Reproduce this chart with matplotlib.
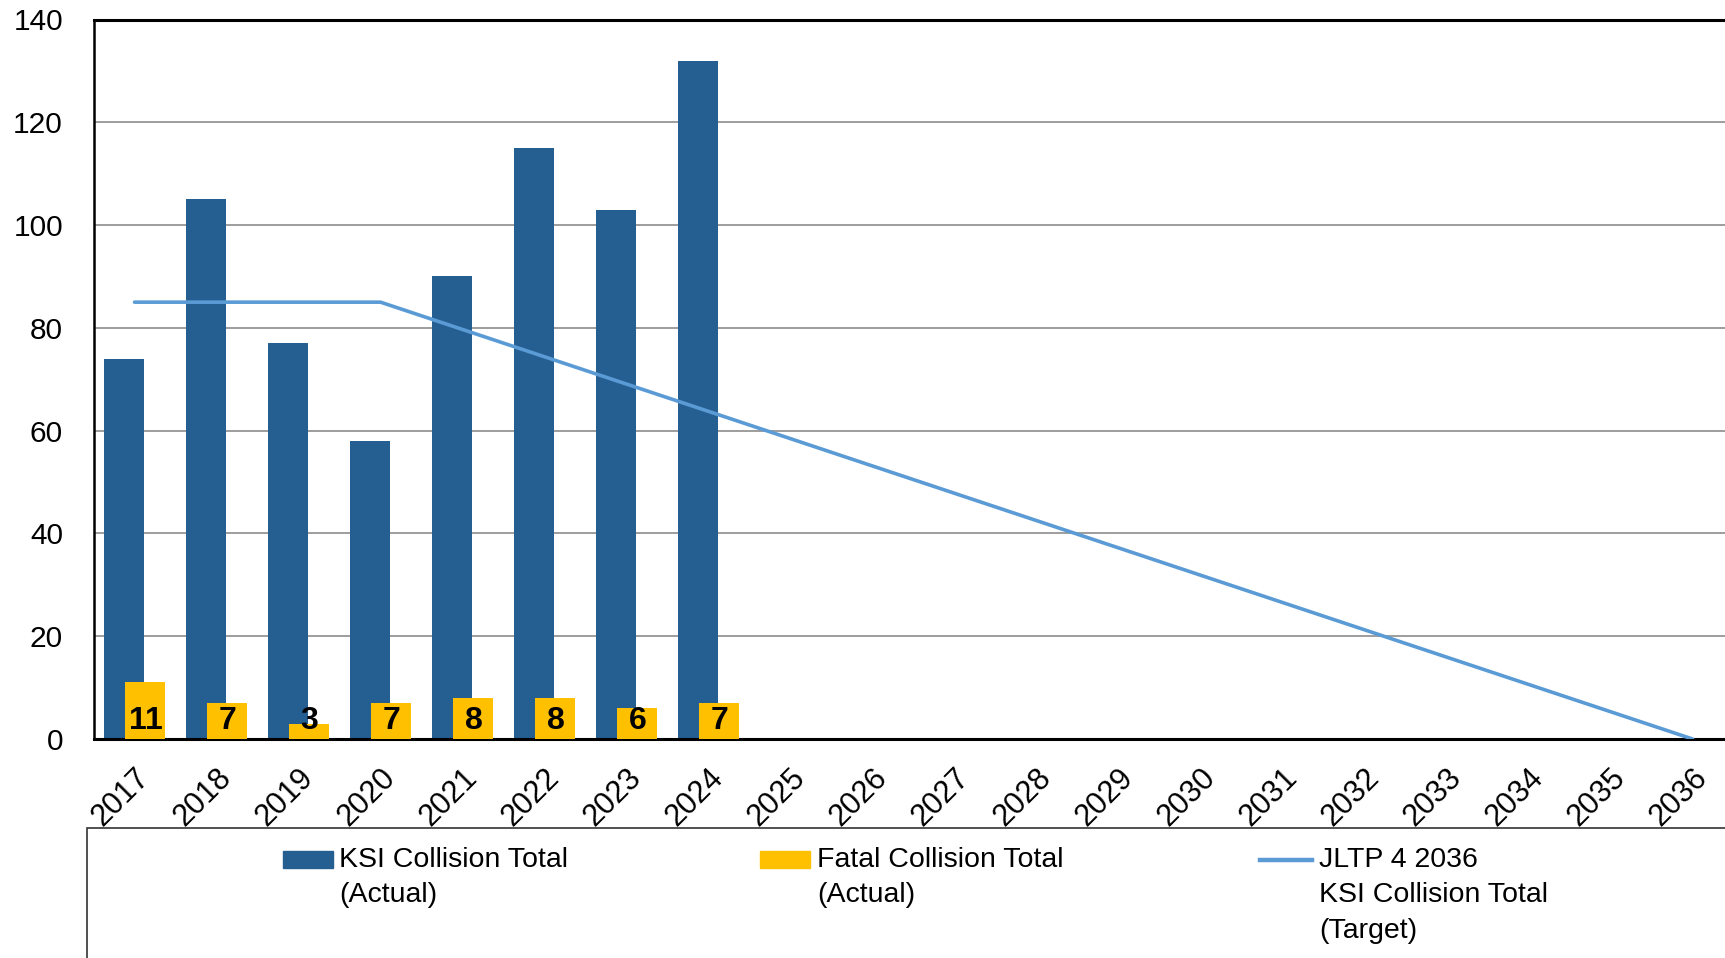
import matplotlib
matplotlib.use("Agg")
import matplotlib.pyplot as plt
from matplotlib.patches import Rectangle
from matplotlib.lines import Line2D

# collision totals by year
years = list(range(2017, 2037))
actual_years = [2017, 2018, 2019, 2020, 2021, 2022, 2023, 2024]
ksi_total = [74, 105, 77, 58, 90, 115, 103, 132]
fatal_total = [11, 7, 3, 7, 8, 8, 6, 7]

# JLTP 4 target: flat to 2020 then straight down to zero in 2036
target_years = [2017, 2020, 2036]
target_ksi = [85, 85, 0]

yticks = [0, 20, 40, 60, 80, 100, 120, 140]

legend_labels = [
    ["KSI Collision Total", "(Actual)"],
    ["Fatal Collision Total", "(Actual)"],
    ["JLTP 4 2036", "KSI Collision Total", "(Target)"],
]

c_ksi = "#255e91"
c_fatal = "#ffc000"
c_target = "#5b9bd5"

W, H = 1725, 958
fig = plt.figure(figsize=(W / 100, H / 100), dpi=100)
# axes runs slightly past the right edge of the canvas
ax = fig.add_axes([93.5 / W, 1 - 739 / H, 1640 / W, (739 - 19.5) / H])

bw = 0.488
off = 0.134
ax.bar([y - off for y in actual_years], ksi_total, width=bw, color=c_ksi, zorder=2)
ax.bar([y + off for y in actual_years], fatal_total, width=bw, color=c_fatal, zorder=3)
ax.plot(target_years, target_ksi, color=c_target, lw=2.6, zorder=4,
        solid_capstyle="round")

# labels sit at the base of the fatal bars
for y, v in zip(actual_years, fatal_total):
    ax.text(y + off, 2.0, str(v), ha="center", va="baseline",
            fontsize=23, fontweight="bold", family="Liberation Sans",
            color="black", zorder=5)

ax.set_xlim(2016.5, 2036.5)
ax.set_ylim(0, 140)
ax.set_yticks(yticks)
ax.set_xticks(years)
ax.set_xticklabels([str(y) for y in years], rotation=45, ha="right",
                   va="top", rotation_mode="anchor", fontsize=22,
                   family="Liberation Sans")
ax.tick_params(axis="x", length=0, pad=17)
ax.tick_params(axis="y", length=0, pad=22, labelsize=21.5)
for lab in ax.get_yticklabels():
    lab.set_family("Liberation Sans")

ax.grid(axis="y", color="#8c8c8c", lw=1.2, zorder=0)
ax.set_axisbelow(True)
for side in ["left", "top", "bottom", "right"]:
    ax.spines[side].set_color("black")
    ax.spines[side].set_linewidth(2.2)
ax.spines["left"].set_linewidth(1.8)

# legend box, open to the right and bottom
fig.add_artist(Rectangle((87 / W, -0.05), 1.2, (1 - 828 / H) + 0.05,
                         transform=fig.transFigure, fill=False,
                         edgecolor="#333333", lw=1.2))

handles_x = [283, 760, 1260]
text_x = [339, 817, 1319]
row0 = 860
row_step = 35.5
for i, lines in enumerate(legend_labels):
    hx = handles_x[i] / W
    if i < 2:
        col = c_ksi if i == 0 else c_fatal
        fig.add_artist(Rectangle((hx, 1 - 868 / H), 50 / W, 17 / H,
                                 transform=fig.transFigure, color=col))
    else:
        fig.add_artist(Line2D([hx, hx + 52 / W], [1 - row0 / H, 1 - row0 / H],
                              transform=fig.transFigure, color=c_target, lw=3.2))
    for j, t in enumerate(lines):
        fig.text(text_x[i] / W, 1 - (row0 + j * row_step) / H, t,
                 ha="left", va="center", fontsize=20.5, family="Liberation Sans")

fig.savefig("out.png", dpi=100)
